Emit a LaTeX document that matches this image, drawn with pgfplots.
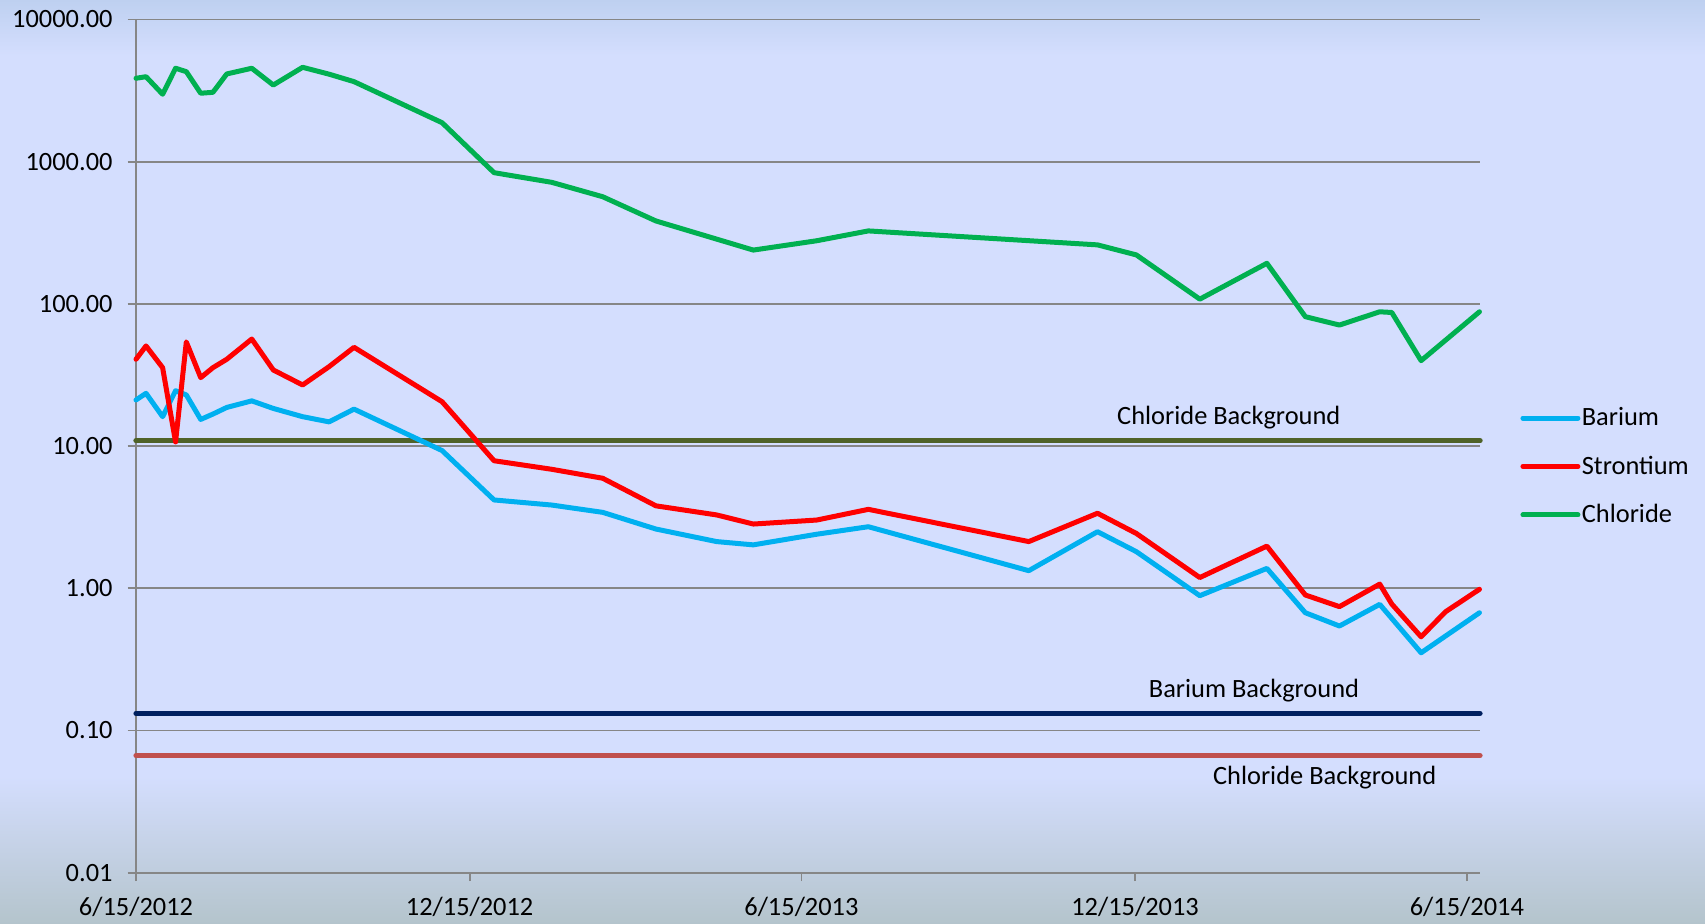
\documentclass[border=0pt]{standalone}
\usepackage{fontspec}
\setmainfont{Carlito}
\usepackage{pgfplots}
\usepackage{pgfplotstable}
\pgfplotsset{compat=1.18}
\definecolor{bgT}{RGB}{190,208,240}
\definecolor{bgM}{RGB}{212,222,254}
\definecolor{bgB}{RGB}{180,196,204}
\definecolor{cBa}{RGB}{0,176,240}
\definecolor{cSr}{RGB}{255,0,0}
\definecolor{cCl}{RGB}{0,176,80}
\definecolor{cOl}{RGB}{79,98,40}
\definecolor{cNv}{RGB}{0,32,96}
\definecolor{cBr}{RGB}{192,80,77}
\definecolor{gridc}{RGB}{134,134,134}
\pgfdeclareverticalshading{bgshade}{100bp}{color(0bp)=(bgB); color(25bp)=(bgB); color(33bp)=(bgM); color(72bp)=(bgM); color(75bp)=(bgT); color(100bp)=(bgT)}
\newcommand{\lf}{\fontsize{13.2}{15.8}\selectfont}

% day = days since 6/15/2012
\pgfplotstableread{
day val
0 21.1
5.5 23.5
14.6 16.1
21.7 24.5
27.6 22.9
35.5 15.4
42.2 16.8
49.8 18.7
63.5 20.8
75.3 18.4
91.4 16.1
105.9 14.8
119.6 18.2
167.9 9.3
196.4 4.18
228 3.85
256 3.42
285.2 2.61
318.5 2.13
338.6 2.02
373.4 2.40
401.7 2.71
489.7 1.33
527.4 2.50
548.7 1.81
583.5 0.887
620.3 1.38
641.4 0.673
660.1 0.543
682.2 0.771
704.9 0.352
736.9 0.673
}\barium

\pgfplotstableread{
day val
0 40.8
5.5 50.6
14.6 35.6
21.7 10.7
27.6 54
35.5 30.3
42.2 35.6
49.8 40.8
63.5 56.6
75.3 34.3
91.4 26.9
105.9 36.2
119.6 49.5
167.9 20.5
196.4 7.89
228 6.87
256 5.94
285.2 3.80
318.5 3.28
338.6 2.83
373.4 3.02
401.7 3.59
489.7 2.13
527.4 3.37
548.7 2.43
583.5 1.19
620.3 1.98
641.4 0.897
660.1 0.743
682.2 1.07
688.8 0.775
704.9 0.456
718.3 0.684
736.9 0.984
}\strontium

\pgfplotstableread{
day val
0 3860
5.5 3960
14.6 2980
21.7 4540
27.6 4295
35.5 3030
42.2 3075
49.8 4140
63.5 4540
75.3 3460
91.4 4610
105.9 4125
119.6 3655
167.9 1880
196.4 837
228 716
256 567
285.2 383
338.6 239
373.4 278
401.7 326
527.4 260
548.7 221
583.5 108
620.3 193
641.4 81.3
660.1 71
682.2 88
688.8 87
704.9 39.9
736.9 88
}\chloride

\begin{document}
\begin{tikzpicture}
\shade[shading=bgshade] (0,0) rectangle (852.5pt,462pt);
\begin{axis}[
  at={(68pt,25.65pt)}, anchor=south west,
  scale only axis, width=672pt, height=426.6pt,
  ymode=log, xmin=0, xmax=737.2, ymin=0.01, ymax=10000,
  clip=false,
  axis lines*=left,
  axis line style={gridc, line width=0.9pt},
  ymajorgrids, yminorgrids=false, yminorticks=false,
  grid style={gridc, line width=0.9pt},
  xtick={0,183,365,548,730},
  xticklabels={6/15/2012,12/15/2012,6/15/2013,12/15/2013,6/15/2014},
  ytick={0.01,0.1,1,10,100,1000,10000},
  yticklabels={0.01,0.10,1.00,10.00,100.00,1000.00,10000.00},
  tick align=outside, major tick length=4.2pt,
  tick style={gridc, line width=0.9pt},
  ticklabel style={font=\lf, text=black},
  yticklabel style={xshift=-4pt},
  xticklabel style={yshift=-4.3pt},
  legend style={at={(axis description cs:1.0298,0.476)}, anchor=west,
    draw=none, fill=none, font=\lf, row sep=12.2pt, inner sep=0pt,
    nodes={inner sep=0.7pt}},
  legend cell align=left,
  legend image code/.code={\draw[#1, line cap=round] (0pt,0pt) -- (27.5pt,0pt);},
  every axis plot/.append style={line join=round, line cap=round},
]
\addplot[cOl, line width=2.7pt, forget plot] coordinates {(0,10.9) (737.2,10.9)};
\addplot[cNv, line width=2.6pt, forget plot] coordinates {(0,0.132) (737.2,0.132)};
\addplot[cBr, line width=2.6pt, forget plot] coordinates {(0,0.0665) (737.2,0.0665)};
\addplot[cBa, line width=2.5pt] table[x=day,y=val] {\barium};
\addlegendentry{Barium}
\addplot[cSr, line width=2.5pt] table[x=day,y=val] {\strontium};
\addlegendentry{Strontium}
\addplot[cCl, line width=2.5pt] table[x=day,y=val] {\chloride};
\addlegendentry{Chloride}
\node[font=\lf] at (axis cs:599.4,15.9) {Chloride Background};
\node[font=\lf] at (axis cs:613.2,0.19) {Barium Background};
\node[font=\lf] at (axis cs:652,0.047) {Chloride Background};
\end{axis}
\pgfresetboundingbox
\useasboundingbox (0,0) rectangle (852.5pt,462pt);
\end{tikzpicture}
\end{document}
